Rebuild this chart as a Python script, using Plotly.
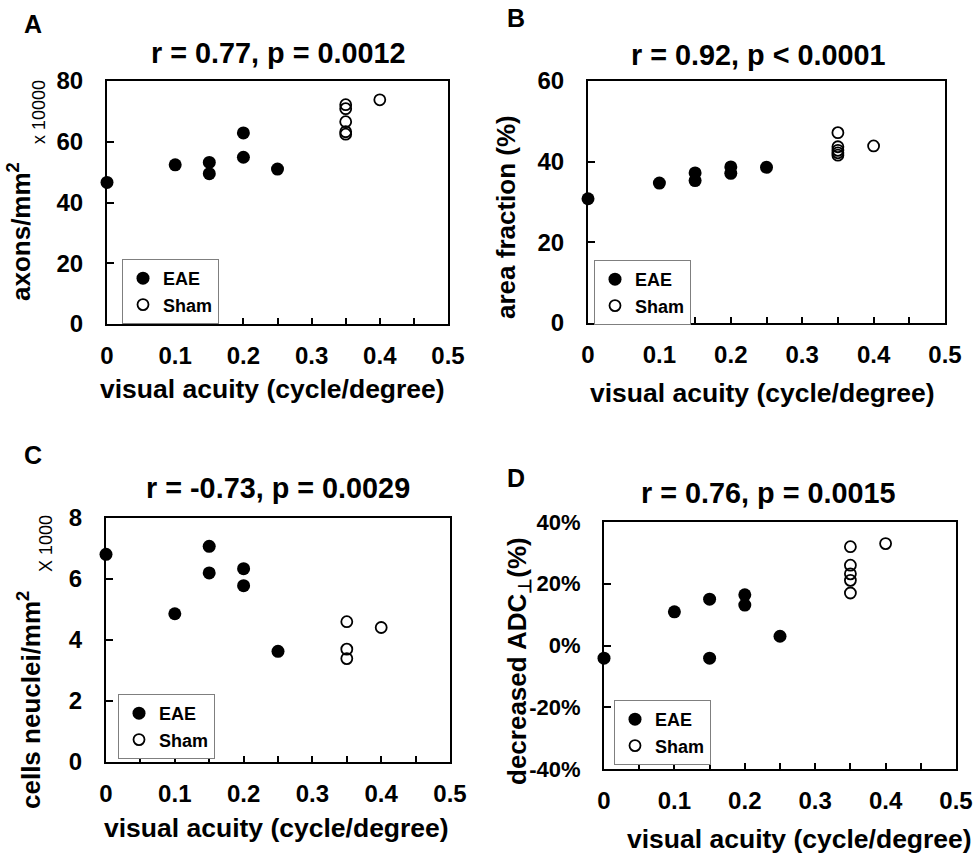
import plotly.graph_objects as go

W, H = 979, 856
FONT = "Liberation Sans, Arial, sans-serif"

# ---- data: visual acuity (cycle/degree) vs. histology / MRI measures ----
# A: axon density (x 10000 axons/mm^2)
a_eae_x = [0, 0.1, 0.15, 0.15, 0.2, 0.2, 0.25]
a_eae_y = [46.6, 52.4, 53.2, 49.5, 62.9, 54.9, 51.0]
a_sham_x = [0.35, 0.35, 0.35, 0.35, 0.35, 0.4]
a_sham_y = [72.2, 70.9, 66.6, 63.3, 62.5, 73.8]

# B: area fraction (%)
b_eae_x = [0, 0.1, 0.15, 0.15, 0.2, 0.2, 0.25]
b_eae_y = [30.8, 34.7, 37.2, 35.3, 38.7, 37.1, 38.6]
b_sham_x = [0.35, 0.35, 0.35, 0.35, 0.35, 0.4]
b_sham_y = [47.2, 43.7, 42.8, 42.2, 41.6, 43.9]

# C: cell nuclei density (x 1000 /mm^2)
c_eae_x = [0, 0.1, 0.15, 0.15, 0.2, 0.2, 0.25]
c_eae_y = [6.81, 4.86, 7.07, 6.20, 6.34, 5.78, 3.63]
c_sham_x = [0.35, 0.35, 0.35, 0.4]
c_sham_y = [4.60, 3.70, 3.39, 4.41]

# D: decreased radial ADC (fraction)
d_eae_x = [0, 0.1, 0.15, 0.15, 0.2, 0.2, 0.25]
d_eae_y = [-0.041, 0.109, 0.150, -0.041, 0.164, 0.131, 0.030]
d_sham_x = [0.35, 0.35, 0.35, 0.35, 0.35, 0.4]
d_sham_y = [0.320, 0.260, 0.232, 0.211, 0.170, 0.330]

# axis ticks
x_ticks = [0, 0.1, 0.2, 0.3, 0.4, 0.5]
x_ticktext = ["0", "0.1", "0.2", "0.3", "0.4", "0.5"]
d_ticks = [-0.4, -0.2, 0, 0.2, 0.4]
d_ticktext = ["-40%", "-20%", "0%", "20%", "40%"]

titles = ["r = 0.77, p = 0.0012", "r = 0.92, p < 0.0001",
          "r = -0.73, p = 0.0029", "r = 0.76, p = 0.0015"]
y_titles = ["axons/mm<sup>2</sup>", "area fraction (%)",
            "cells neuclei/mm<sup>2</sup>", "decreased ADC<sub>\u22a5</sub>(%)"]
letters = ["A", "B", "C", "D"]
x_title = "visual acuity (cycle/degree)"


def px_x(v):
    return v / W


def px_y(v):
    return 1 - v / H


# plot-frame boxes in pixels: (left, right, top, bottom)
frames = [(107, 448, 81, 324), (588, 945, 81, 323),
          (106, 450, 518, 762), (604, 956, 522, 769)]

panels = [
    dict(eae=(a_eae_x, a_eae_y), sham=(a_sham_x, a_sham_y), yrange=[0, 80], ydtick=20, yfont=24),
    dict(eae=(b_eae_x, b_eae_y), sham=(b_sham_x, b_sham_y), yrange=[0, 60], ydtick=20, yfont=24),
    dict(eae=(c_eae_x, c_eae_y), sham=(c_sham_x, c_sham_y), yrange=[0, 8], ydtick=2, yfont=24),
    dict(eae=(d_eae_x, d_eae_y), sham=(d_sham_x, d_sham_y), yrange=[-0.4, 0.4], ydtick=0.2, yfont=22),
]

# legend boxes (left, top) in pixels
legend_pos = [(122, 259), (594, 260), (118, 694), (614, 700)]

fig = go.Figure()
layout = dict(
    width=W, height=H, margin=dict(l=0, r=0, t=0, b=0, autoexpand=False),
    paper_bgcolor="white", plot_bgcolor="white",
    font=dict(family=FONT, color="black"),
    showlegend=True,
)

annotations = []

for i, p in enumerate(panels):
    n = "" if i == 0 else str(i + 1)
    xa, ya = "x" + n, "y" + n
    lg = "legend" + n
    l, r, t, b = frames[i]

    fig.add_trace(go.Scatter(
        x=p["eae"][0], y=p["eae"][1], mode="markers", name="EAE",
        xaxis=xa, yaxis=ya, legend=lg, cliponaxis=False,
        marker=dict(symbol="circle", size=13, color="black",
                    line=dict(width=0)),
    ))
    fig.add_trace(go.Scatter(
        x=p["sham"][0], y=p["sham"][1], mode="markers", name="Sham",
        xaxis=xa, yaxis=ya, legend=lg, cliponaxis=False,
        marker=dict(symbol="circle-open", size=11, color="black",
                    line=dict(width=1.8, color="black")),
    ))

    layout["xaxis" + n] = dict(
        domain=[px_x(l), px_x(r)], anchor=ya, range=[0, 0.5],
        automargin=False,
        tickvals=x_ticks, ticktext=x_ticktext, ticks="inside", ticklen=6,
        tickwidth=1.5, tickcolor="black",
        minor=dict(dtick=0.05, tick0=0, ticks="inside", ticklen=6,
                   tickwidth=1.5, tickcolor="black"),
        showline=True, mirror=True, linecolor="black", linewidth=2,
        showgrid=False, zeroline=False,
        tickfont=dict(family=FONT, size=24, color="black", weight="bold"),
        ticklabelstandoff=9, fixedrange=True,
    )
    ydict = dict(
        domain=[px_y(b), px_y(t)], anchor=xa, range=p["yrange"],
        automargin=False,
        ticks="inside", ticklen=7, tickwidth=1.5, tickcolor="black",
        showline=True, mirror=True, linecolor="black", linewidth=2,
        showgrid=False, zeroline=False,
        tickfont=dict(family=FONT, size=p["yfont"], color="black", weight="bold"),
        ticklabelstandoff=17, fixedrange=True,
    )
    if i == 3:
        ydict.update(tickvals=d_ticks, ticktext=d_ticktext)
    else:
        ydict.update(dtick=p["ydtick"], tick0=0)
    layout["yaxis" + n] = ydict

    lx, ly = legend_pos[i]
    layout[lg] = dict(
        x=px_x(lx), y=px_y(ly), xanchor="left", yanchor="top",
        bgcolor="white", bordercolor="#7f7f7f", borderwidth=1,
        font=dict(family=FONT, size=18, color="black", weight="bold"),
        itemwidth=30, tracegroupgap=0,
    )

# text placement in pixels (box centres)
title_pos = [(278, 53), (758, 55), (278, 488), (768, 493)]
ytitle_pos = [(20, 232), (506, 217), (29, 700), (518, 661)]
xtitle_pos = [(272, 389), (762, 393), (276, 828), (799, 839)]
letter_pos = [(33, 24), (516, 18), (33, 455), (516, 478)]

for i in range(4):
    tx, ty = title_pos[i]
    annotations.append(dict(
        text="<b>" + titles[i] + "</b>", x=px_x(tx), y=px_y(ty),
        xref="paper", yref="paper", showarrow=False,
        xanchor="center", yanchor="middle",
        font=dict(family=FONT, size=28.8, color="black")))
    yx, yy = ytitle_pos[i]
    annotations.append(dict(
        text="<b>" + y_titles[i] + "</b>", x=px_x(yx), y=px_y(yy),
        xref="paper", yref="paper", showarrow=False, textangle=-90,
        xanchor="center", yanchor="middle",
        font=dict(family=FONT, size=26, color="black")))
    xx, xy = xtitle_pos[i]
    annotations.append(dict(
        text="<b>" + x_title + "</b>", x=px_x(xx), y=px_y(xy),
        xref="paper", yref="paper", showarrow=False,
        xanchor="center", yanchor="middle",
        font=dict(family=FONT, size=26.5, color="black")))
    lx, ly = letter_pos[i]
    annotations.append(dict(
        text="<b>" + letters[i] + "</b>", x=px_x(lx), y=px_y(ly),
        xref="paper", yref="paper", showarrow=False,
        xanchor="center", yanchor="middle",
        font=dict(family=FONT, size=25, color="black")))

# unit multipliers beside the y axes of A and C
annotations.append(dict(
    text="x 10000", x=px_x(39), y=px_y(112), xref="paper", yref="paper",
    showarrow=False, textangle=-90, xanchor="center", yanchor="middle",
    font=dict(family=FONT, size=18, color="black")))
annotations.append(dict(
    text="X 1000", x=px_x(46), y=px_y(544), xref="paper", yref="paper",
    showarrow=False, textangle=-90, xanchor="center", yanchor="middle",
    font=dict(family=FONT, size=18, color="black")))

layout["annotations"] = annotations
fig.update_layout(**layout)

fig.write_html("out.html")
